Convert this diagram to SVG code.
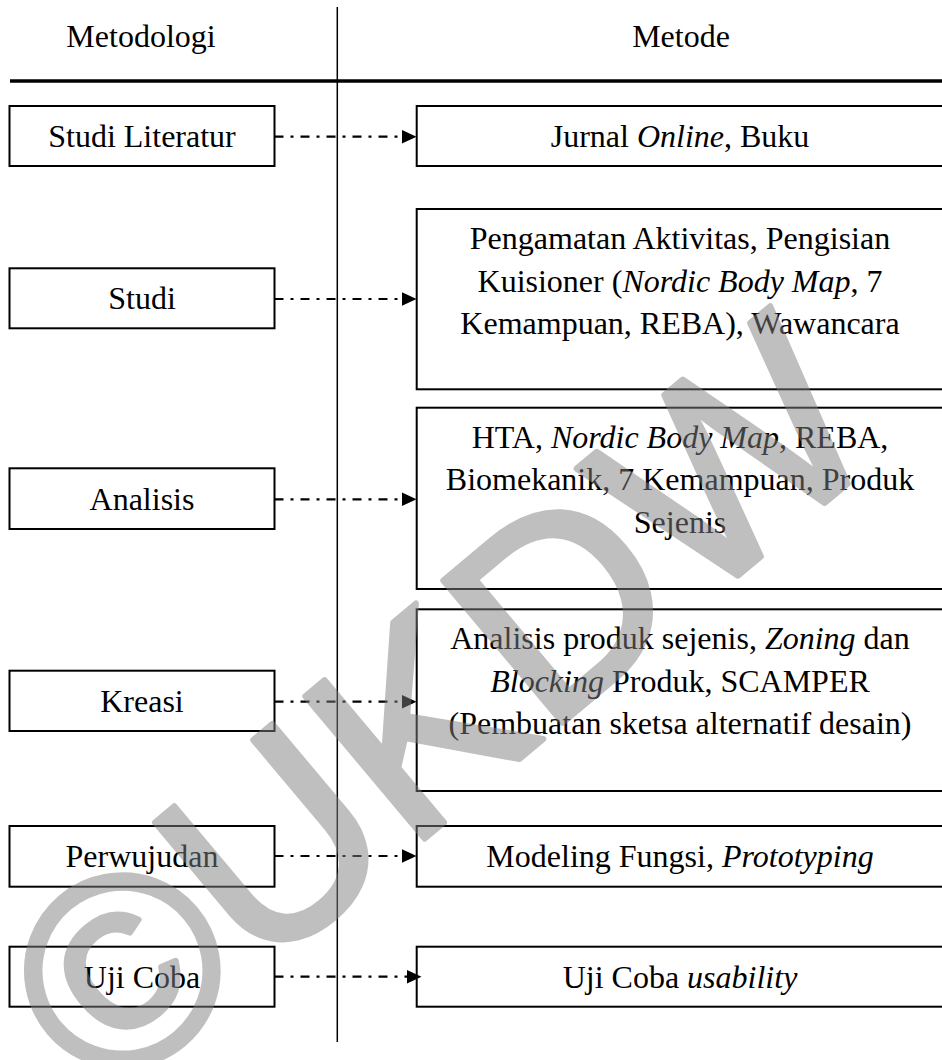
<svg xmlns="http://www.w3.org/2000/svg" width="942" height="1060" viewBox="0 0 942 1060">
<defs>
<style>
.t{font-family:"Liberation Serif","Times New Roman",Times,serif;font-size:32px;fill:#000;text-anchor:middle}
.i{font-style:italic}
.box{fill:#fff;stroke:#000;stroke-width:2}
.conn{stroke:#000;stroke-width:2.2;stroke-dasharray:9 7 3 7;fill:none}
.head{fill:#000}
.wm{font-family:"Liberation Sans",Arial,sans-serif;font-size:270px;fill:#808080;stroke:#808080;stroke-width:6;stroke-linejoin:round}
</style>
</defs>
<rect width="942" height="1060" fill="#fff"/>
<g id="header">
<text class="t" x="141" y="47">Metodologi</text>
<text class="t" x="681" y="47">Metode</text>
<line x1="10" y1="81" x2="942" y2="81" stroke="#000" stroke-width="3.5"/>
<line x1="337.3" y1="7" x2="337.3" y2="1042" stroke="#000" stroke-width="1.5"/>
</g>
<g id="n-studi-literatur"><rect class="box" x="9.5" y="106" width="265" height="60"/><text class="t" x="142" y="146.5">Studi Literatur</text></g>
<g id="m-studi-literatur"><rect class="box" x="416.7" y="106" width="530" height="60"/><text class="t" x="680" y="146.5">Jurnal <tspan class="i">Online</tspan>, Buku</text></g>
<g id="n-studi"><rect class="box" x="9.5" y="268.3" width="265" height="60"/><text class="t" x="142" y="309">Studi</text></g>
<g id="m-studi"><rect class="box" x="416.7" y="209" width="530" height="180.3"/>
<text class="t" x="680" y="249">Pengamatan Aktivitas, Pengisian</text>
<text class="t" x="680" y="291.5">Kuisioner (<tspan class="i">Nordic Body Map</tspan>, 7</text>
<text class="t" x="680" y="334">Kemampuan, REBA), Wawancara</text></g>
<g id="n-analisis"><rect class="box" x="9.5" y="468.3" width="265" height="60.7"/><text class="t" x="142" y="509.5">Analisis</text></g>
<g id="m-analisis"><rect class="box" x="416.7" y="407.7" width="530" height="181.3"/>
<text class="t" x="680" y="447.7">HTA, <tspan class="i">Nordic Body Map</tspan>, REBA,</text>
<text class="t" x="680" y="490.2">Biomekanik, 7 Kemampuan, Produk</text>
<text class="t" x="680" y="532.7">Sejenis</text></g>
<g id="n-kreasi"><rect class="box" x="9.5" y="670.7" width="265" height="60.3"/><text class="t" x="142" y="711.5">Kreasi</text></g>
<g id="m-kreasi"><rect class="box" x="416.7" y="609.3" width="530" height="181.7"/>
<text class="t" x="680" y="649.3">Analisis produk sejenis, <tspan class="i">Zoning</tspan> dan</text>
<text class="t" x="680" y="691.8"><tspan class="i">Blocking</tspan> Produk, SCAMPER</text>
<text class="t" x="680" y="734.3">(Pembuatan sketsa alternatif desain)</text></g>
<g id="n-perwujudan"><rect class="box" x="9.5" y="826" width="265" height="60.7"/><text class="t" x="142" y="867">Perwujudan</text></g>
<g id="m-perwujudan"><rect class="box" x="416.7" y="826" width="530" height="60.7"/><text class="t" x="680" y="867">Modeling Fungsi, <tspan class="i">Prototyping</tspan></text></g>
<g id="n-uji-coba"><rect class="box" x="9.5" y="946.7" width="265" height="60"/><text class="t" x="142" y="987.5">Uji Coba</text></g>
<g id="m-uji-coba"><rect class="box" x="416.7" y="946.7" width="530" height="60"/><text class="t" x="680" y="987.5">Uji Coba <tspan class="i">usability</tspan></text></g>
<g id="connectors">
<line class="conn" x1="274.5" y1="136.7" x2="402" y2="136.7"/><polygon class="head" points="402,130 416.5,136.7 402,143.4"/>
<line class="conn" x1="274.5" y1="299" x2="402" y2="299"/><polygon class="head" points="402,292.3 416.5,299 402,305.7"/>
<line class="conn" x1="274.5" y1="499.3" x2="402" y2="499.3"/><polygon class="head" points="402,492.6 416.5,499.3 402,506"/>
<line class="conn" x1="274.5" y1="701.7" x2="402" y2="701.7"/><polygon class="head" points="402,695 416.5,701.7 402,708.4"/>
<line class="conn" x1="274.5" y1="856" x2="402" y2="856"/><polygon class="head" points="402,849.3 416.5,856 402,862.7"/>
<line class="conn" x1="274.5" y1="976.7" x2="407" y2="976.7"/><polygon class="head" points="407,970 421.5,976.7 407,983.4"/>
</g>
<g id="watermark" opacity="0.5" transform="translate(106,1106) rotate(-40)">
<text class="wm" x="0" y="0">©UKDW</text>
</g>
</svg>
